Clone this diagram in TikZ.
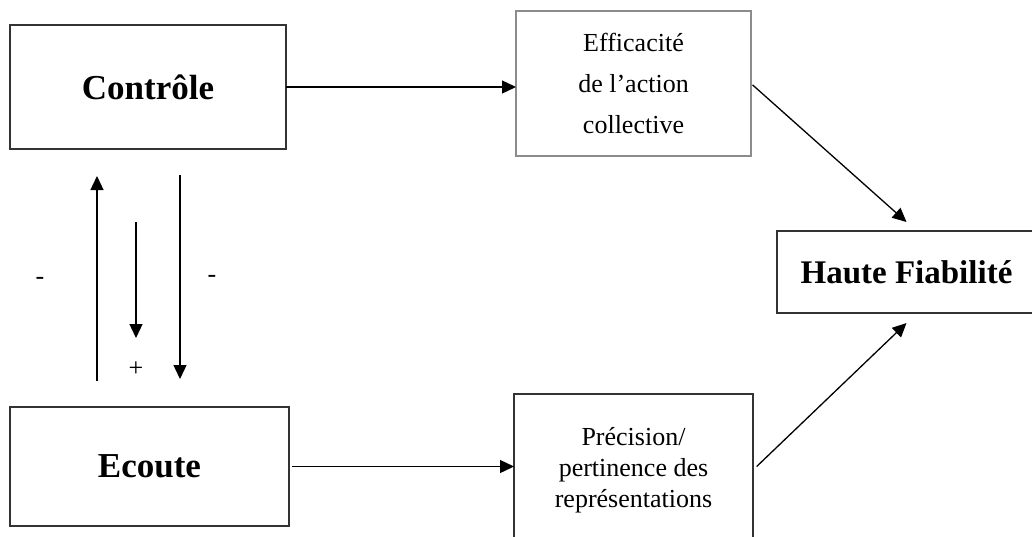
\documentclass[tikz,border=0pt]{standalone}
\usepackage{fontspec}
\setmainfont{Liberation Serif}
\usetikzlibrary{arrows.meta}
\begin{document}
\begin{tikzpicture}[x=1pt,y=-1pt,
  box/.style={draw=black!80,line width=1.2pt,inner sep=0pt,outer sep=0pt,align=center},
  lightbox/.style={box,draw=black!45},
  bigtxt/.style={font=\fontsize{35}{40}\selectfont\bfseries},
  smalltxt/.style={font=\fontsize{26}{31}\selectfont},
  arr/.style={line width=1.3pt,-{Triangle[length=14pt,width=13pt]}},
  sign/.style={font=\fontsize{26}{28}\selectfont,inner sep=0pt}]
\useasboundingbox[fill=white] (0,0) rectangle (1032,536);
\node[box,bigtxt,minimum width=276pt,minimum height=124pt] (c) at (148,87) {Contrôle};
\node[box,bigtxt,minimum width=279pt,minimum height=119pt] (ec) at (149.5,466.5) {Ecoute};
\node[lightbox,font=\fontsize{26}{41}\selectfont,minimum width=235pt,minimum height=145pt] (e) at (633.5,83.5) {Efficacité\\de l’action\\collective};
\node[box,smalltxt,minimum width=239pt,minimum height=152pt] (p) at (633.5,470) {Précision/\\pertinence des\\représentations};
\node[box,font=\fontsize{33}{38}\selectfont\bfseries,minimum width=259pt,minimum height=82pt] (hf) at (906.5,272) {Haute Fiabilité};
\draw[arr] (c.east) -- (c.east -| e.west);
\draw[arr,shorten <=3pt] (ec.east) -- (ec.east -| p.west);
\draw[arr,shorten <=2pt] (e.east) -- ([yshift=9pt]hf.north);
\draw[arr,shorten <=5pt] (p.east) -- ([yshift=-10pt]hf.south);
\coordinate (xa) at (97,0);
\coordinate (xb) at (180,0);
\draw[arr,shorten <=26pt,shorten >=27pt] (ec.north -| xa) -- (c.south -| xa);
\draw[arr,shorten <=26pt,shorten >=28pt] (c.south -| xb) -- (ec.north -| xb);
\coordinate (s1) at (136,222);
\coordinate (s2) at (136,338);
\draw[arr] (s1) -- (s2);
\node[sign] (m1) at (40,281) {-};
\node[sign] (m2) at (212,279) {-};
\node[sign] (pl) at (136,369) {+};
\end{tikzpicture}
\end{document}
